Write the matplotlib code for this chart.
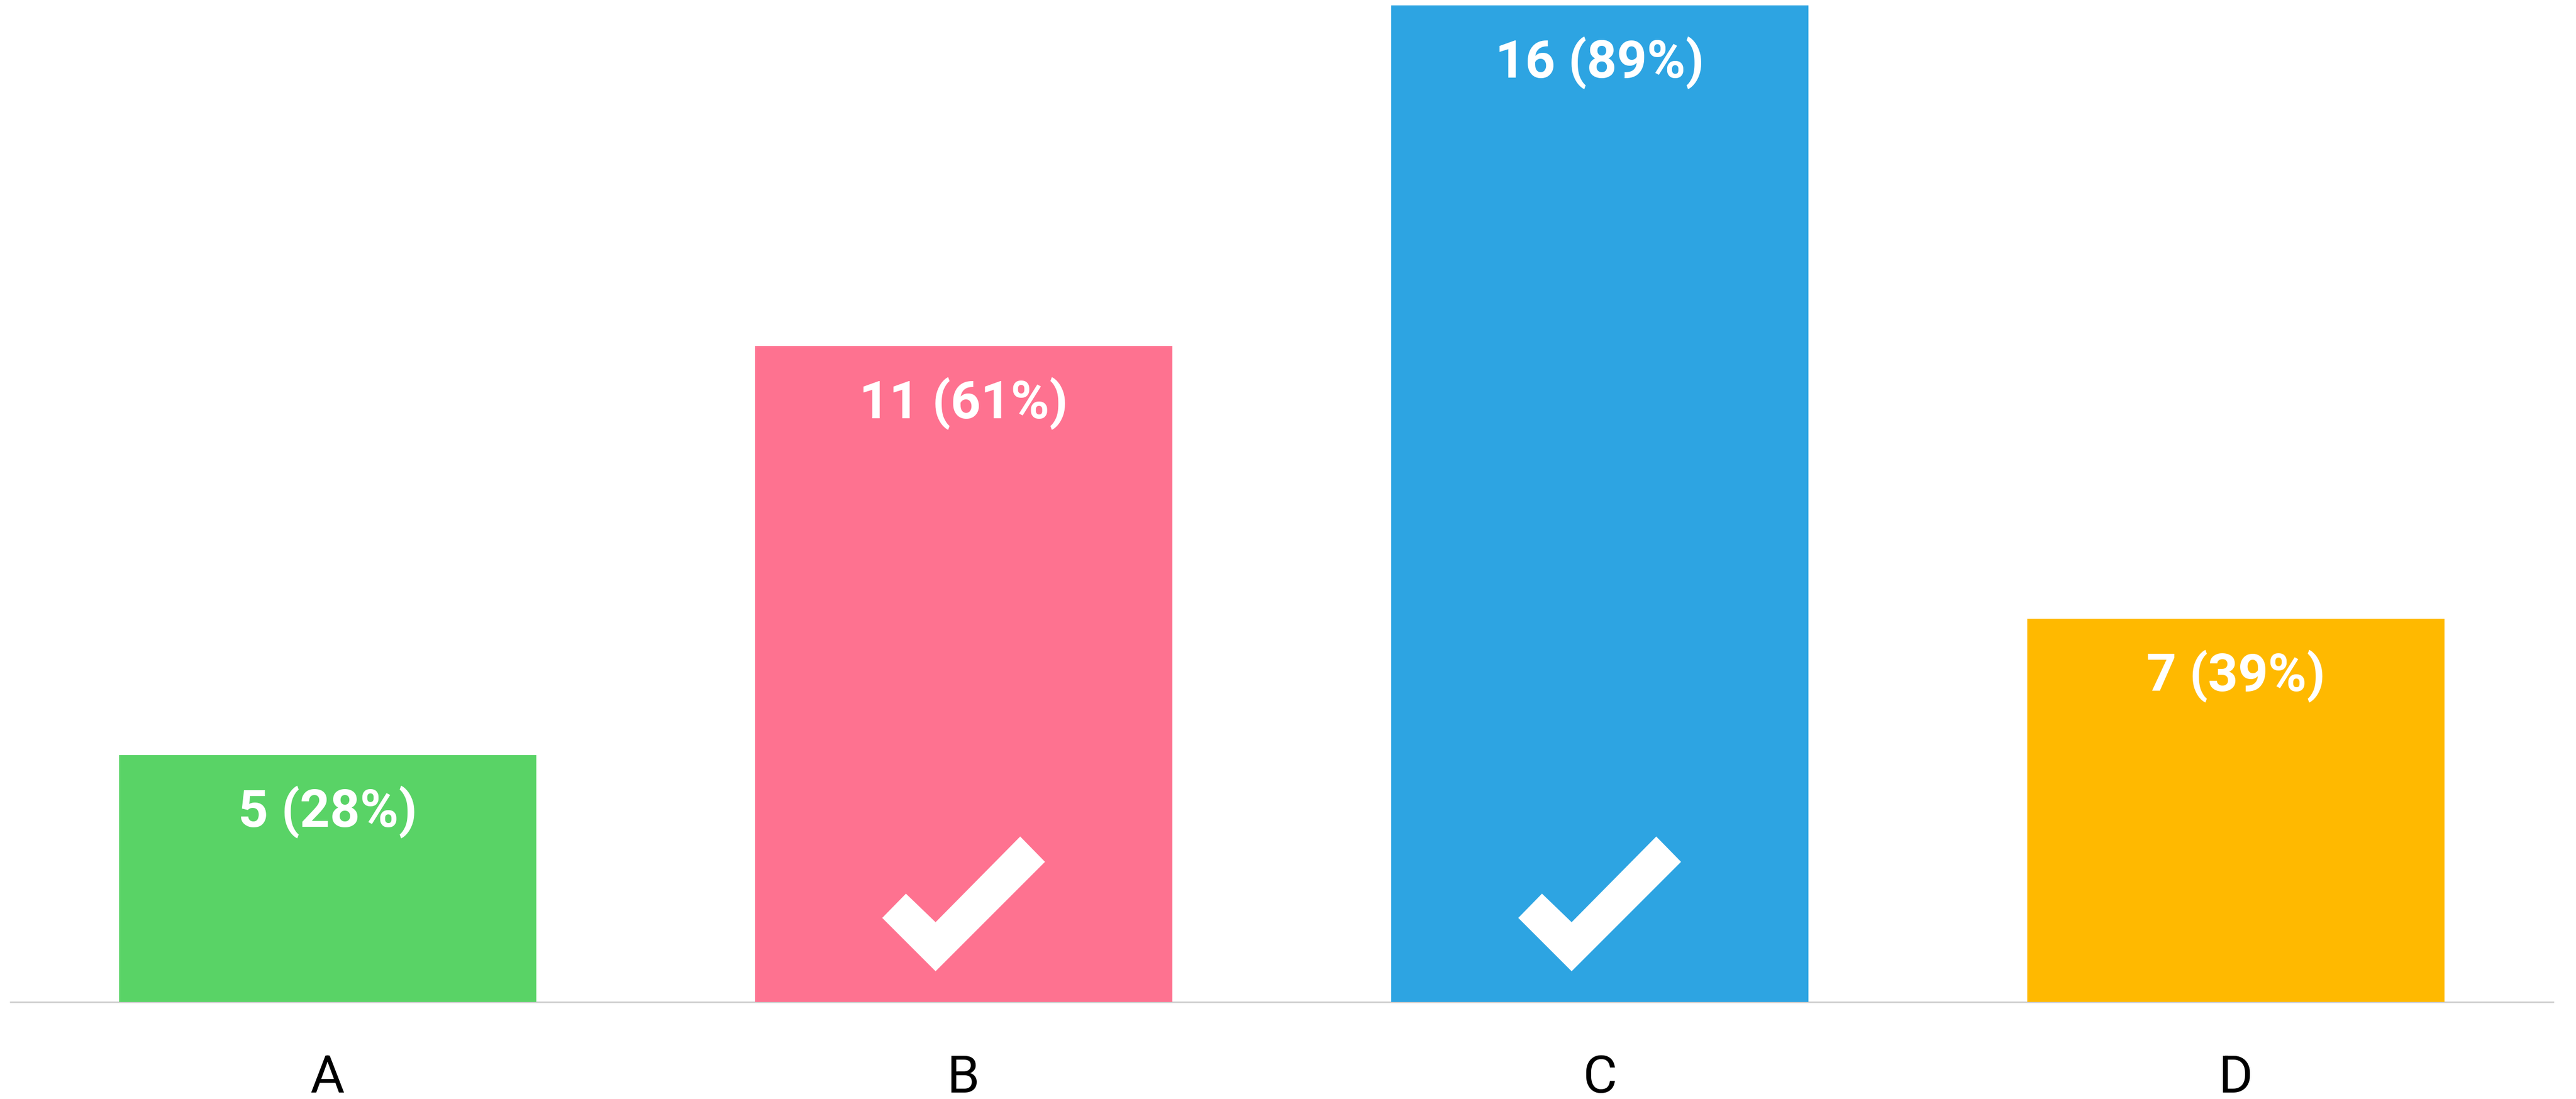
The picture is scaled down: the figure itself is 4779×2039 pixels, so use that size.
import matplotlib.pyplot as plt
from matplotlib.path import Path
from matplotlib.patches import PathPatch
from matplotlib.transforms import Affine2D, ScaledTranslation

categories = ["A", "B", "C", "D"]
counts = [5, 11, 16, 7]
total = 18
correct = [False, True, True, False]
colors = ["#59d366", "#fe7290", "#2da4e2", "#ffb900"]

W, H, DPI = 4779, 2040, 100
PT = 72 / DPI  # points per pixel

fig = plt.figure(figsize=(W / DPI, H / DPI), dpi=DPI)
ax = fig.add_axes([0, 180 / H, 1, 1 - 180 / H])

x = list(range(len(categories)))
ax.bar(x, counts, width=0.656, color=colors, zorder=2)
ax.set_xlim(-0.515, 3.535)
ax.set_ylim(1.377, 16.09)
y0, y1 = ax.get_ylim()
unit = (y1 - y0) / (H - 180)  # data units per pixel

# baseline
ax.hlines(y0, -0.5, 3.5, color="#d0d0d0", lw=3 * PT, zorder=1, clip_on=False)

for s in ax.spines.values():
    s.set_visible(False)
ax.set_xticks([])
ax.set_yticks([])

for xi, cat in zip(x, categories):
    ax.text(xi, y0 - 167 * unit, cat, family="Roboto", fontsize=70,
            ha="center", va="baseline", color="black", clip_on=False)

# value labels inside the bars
for xi, v in zip(x, counts):
    ax.text(xi, v - 132 * unit, f"{v} ({round(100 * v / total)}%)",
            family="Roboto", ha="center", color="white",
            fontsize=70, fontweight="bold")

# check mark (shape in pixels) for correct answers
check = Path([(-151, -26), (-107, 19), (-52, -34), (105, 125),
              (151, 78), (-52, -125), (-151, -26)])
for xi, ok in zip(x, correct):
    if ok:
        tr = Affine2D() + ScaledTranslation(xi, y0 + 182 * unit, ax.transData)
        ax.add_patch(PathPatch(check, transform=tr, facecolor="white",
                               edgecolor="none", zorder=3))

fig.savefig("out.png", dpi=DPI)
